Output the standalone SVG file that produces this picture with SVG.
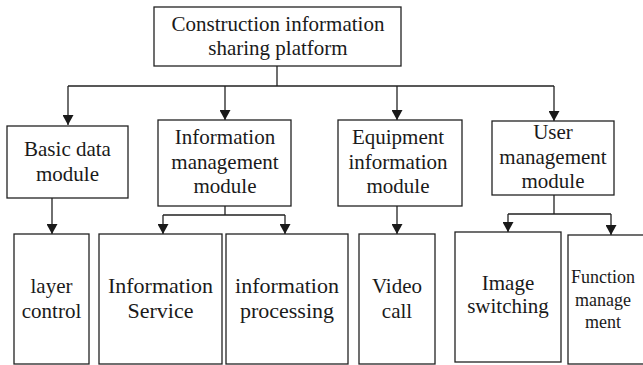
<svg xmlns="http://www.w3.org/2000/svg" width="643" height="365" viewBox="0 0 643 365" font-family="Liberation Serif, DejaVu Serif, serif">
  <defs>
    <marker id="arrow" markerUnits="userSpaceOnUse" markerWidth="10" markerHeight="11" viewBox="0 0 10 11" refX="10" refY="5.5" orient="auto">
      <path d="M0,0 L10,5.5 L0,11 z" fill="#1a1a1a"/>
    </marker>
    <style>
      .box { fill: #ffffff; stroke: #222222; stroke-width: 1.3; }
      .line { fill: none; stroke: #222222; stroke-width: 1.3; }
      .arr { fill: none; stroke: #222222; stroke-width: 1.3; marker-end: url(#arrow); }
      text { font-family: "Liberation Serif", "DejaVu Serif", serif; font-size: 21px; fill: #1a1a1a; text-anchor: middle; }
      .small { font-size: 18px; }
      .big { font-size: 22px; }
    </style>
  </defs>
  <rect width="643" height="365" fill="#ffffff"/>

  <!-- connectors -->
  <g id="connectors">
    <path class="line" d="M277,66 V86 M68,86 H554"/>
    <path class="arr" d="M68,86 V125"/>
    <path class="arr" d="M225,86 V120"/>
    <path class="arr" d="M397,86 V120"/>
    <path class="arr" d="M554,86 V121"/>
    <path class="arr" d="M52,198 V234"/>
    <path class="line" d="M225,206 V215 M163,215 H285"/>
    <path class="arr" d="M163,215 V234"/>
    <path class="arr" d="M285,215 V234"/>
    <path class="arr" d="M397,206 V234"/>
    <path class="line" d="M554,195 V214 M508,214 H611"/>
    <path class="arr" d="M508,214 V232"/>
    <path class="arr" d="M611,214 V235"/>
  </g>

  <!-- root -->
  <g id="platform">
    <rect class="box" x="154" y="7" width="247" height="59"/>
    <text x="278" y="31">Construction information</text>
    <text x="278" y="55">sharing platform</text>
  </g>

  <!-- modules -->
  <g id="basic-data">
    <rect class="box" x="7" y="126" width="121" height="72"/>
    <text x="67.5" y="156">Basic data</text>
    <text x="67.5" y="181">module</text>
  </g>
  <g id="information-management">
    <rect class="box" x="158" y="120" width="133" height="86"/>
    <text x="225" y="144">Information</text>
    <text x="225" y="168.5">management</text>
    <text x="225" y="193">module</text>
  </g>
  <g id="equipment-information">
    <rect class="box" x="338" y="120" width="124" height="86"/>
    <text x="398" y="144">Equipment</text>
    <text x="398" y="168.5">information</text>
    <text x="398" y="193">module</text>
  </g>
  <g id="user-management">
    <rect class="box" x="492" y="121" width="122" height="74"/>
    <text x="553" y="139">User</text>
    <text x="553" y="164">management</text>
    <text x="553" y="188">module</text>
  </g>

  <!-- functions -->
  <g id="layer-control">
    <rect class="box" x="14" y="234" width="75" height="130"/>
    <text x="51.5" y="293">layer</text>
    <text x="51.5" y="318">control</text>
  </g>
  <g id="information-service">
    <rect class="box" x="99" y="234" width="123" height="130"/>
    <text class="big" x="160.5" y="293">Information</text>
    <text class="big" x="160.5" y="318">Service</text>
  </g>
  <g id="information-processing">
    <rect class="box" x="226" y="234" width="122" height="130"/>
    <text class="big" x="287" y="293">information</text>
    <text class="big" x="287" y="318">processing</text>
  </g>
  <g id="video-call">
    <rect class="box" x="359" y="234" width="76" height="130"/>
    <text x="397" y="293">Video</text>
    <text x="397" y="318">call</text>
  </g>
  <g id="image-switching">
    <rect class="box" x="455" y="232" width="106" height="130"/>
    <text x="508" y="290">Image</text>
    <text x="508" y="313">switching</text>
  </g>
  <g id="function-management">
    <rect class="box" x="568" y="235" width="90" height="129"/>
    <text class="small" x="603" y="283">Function</text>
    <text class="small" x="603" y="306">manage</text>
    <text class="small" x="603" y="328">ment</text>
  </g>
</svg>
